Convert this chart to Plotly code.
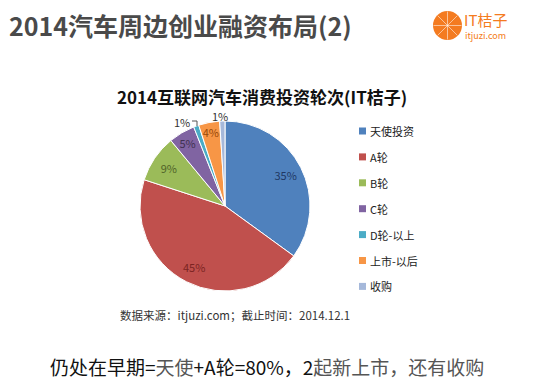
import math
import plotly.graph_objects as go

categories = ["天使投资", "A轮", "B轮", "C轮", "D轮-以上", "上市-以后", "收购"]
values = [35, 45, 9, 5, 1, 4, 1]
colors = ["#4F81BD", "#C0504D", "#9BBB59", "#8064A2", "#4BACC6", "#F79646", "#A5B8DA"]
text_colors = ["#1F3864", "#7B2422", "#4F6228", "#3F3151", "#333333", "#984807", "#333333"]
# slices whose label sits outside the pie (drawn as annotations)
outside_idx = [4, 6]

W, H = 550, 388
OFF = 8  # page body margin
FONT = "Noto Sans CJK SC"


def px(x):
    return (x - OFF) / W


def py(y):
    return 1 - (y - OFF) / H


dom = dict(x=[px(140), px(310)], y=[py(292), py(120)])

fig = go.Figure()
# coloured pie
fig.add_trace(go.Pie(
    labels=categories,
    values=values,
    sort=False,
    direction="clockwise",
    rotation=0,
    marker=dict(colors=colors, line=dict(color="white", width=1)),
    textinfo="none",
    domain=dom,
    showlegend=False,
    hoverinfo="label+percent",
))
# transparent ring carrying the inside labels at ~0.8 radius
fig.add_trace(go.Pie(
    labels=categories,
    values=values,
    sort=False,
    direction="clockwise",
    rotation=0,
    hole=0.6,
    marker=dict(colors=["rgba(0,0,0,0)"] * len(values), line=dict(width=0)),
    texttemplate=["" if i in outside_idx else "%{percent:.0%}" for i in range(len(values))],
    textposition="inside",
    insidetextorientation="horizontal",
    textfont=dict(family=FONT, size=11, color=text_colors),
    domain=dom,
    showlegend=False,
    hoverinfo="skip",
))

shapes = []
annotations = []

# outside labels for the tiny slices
out_pos = {4: (182, 122), 6: (220, 116)}
for i in outside_idx:
    x, y = out_pos[i]
    annotations.append(dict(text=f"{values[i]}%", xref="paper", yref="paper", x=px(x), y=py(y),
                            xanchor="center", yanchor="middle", showarrow=False,
                            font=dict(family=FONT, size=11, color="#333333")))
# leader line for the D轮 label
shapes.append(dict(type="path", xref="paper", yref="paper",
                   path=f"M {px(192)},{py(121)} L {px(197)},{py(121)} L {px(197)},{py(126)}",
                   line=dict(color="#555555", width=1)))

# manual legend
leg_y0 = 131
leg_dy = 25.9
for i, (lab, col) in enumerate(zip(categories, colors)):
    yc = leg_y0 + i * leg_dy
    shapes.append(dict(type="rect", xref="paper", yref="paper",
                       x0=px(359), x1=px(366), y0=py(yc + 3.5), y1=py(yc - 3.5),
                       fillcolor=col, line=dict(width=0)))
    annotations.append(dict(text=lab, xref="paper", yref="paper", x=px(368), y=py(yc),
                            xanchor="left", yanchor="middle", showarrow=False,
                            font=dict(family=FONT, size=11, color="#222222")))

# logo
shapes.append(dict(type="circle", xref="paper", yref="paper",
                   x0=px(433), x1=px(462), y0=py(40), y1=py(11),
                   fillcolor="#F47B20", line=dict(width=0)))
cx, cy, r = 447.5, 25.5, 14
for k in range(4):
    a = math.pi * k / 4
    shapes.append(dict(type="line", xref="paper", yref="paper",
                       x0=px(cx - r * math.cos(a)), x1=px(cx + r * math.cos(a)),
                       y0=py(cy - r * math.sin(a)), y1=py(cy + r * math.sin(a)),
                       line=dict(color="rgba(255,255,255,0.55)", width=1)))
annotations.append(dict(text="IT桔子", xref="paper", yref="paper", x=px(462), y=py(19),
                        xanchor="left", yanchor="middle", showarrow=False,
                        font=dict(family=FONT, size=15, color="#F47B20")))
annotations.append(dict(text="itjuzi.com", xref="paper", yref="paper", x=px(463), y=py(36),
                        xanchor="left", yanchor="middle", showarrow=False,
                        font=dict(family=FONT, size=9, color="#F47B20")))

# main title
annotations.append(dict(text="<b>2014汽车周边创业融资布局(2)</b>", xref="paper", yref="paper",
                        x=px(7), y=py(25), xanchor="left", yanchor="middle", showarrow=False,
                        font=dict(family=FONT, size=25, color="#4A4A4A")))
# chart title
annotations.append(dict(text="<b>2014互联网汽车消费投资轮次(IT桔子)</b>", xref="paper", yref="paper",
                        x=px(262), y=py(97), xanchor="center", yanchor="middle", showarrow=False,
                        font=dict(family=FONT, size=17, color="#111111")))
# source
annotations.append(dict(text="数据来源：itjuzi.com；截止时间：2014.12.1", xref="paper", yref="paper",
                        x=px(235), y=py(315), xanchor="center", yanchor="middle", showarrow=False,
                        font=dict(family=FONT, size=11.5, color="#333333")))
# bottom conclusion
annotations.append(dict(
    text=("<span style='color:#111'>仍处在早期=</span><span style='color:#555'>天使</span>"
          "<span style='color:#111'>+A轮=80%，2</span><span style='color:#555'>起新上市，还有收购</span>"),
    xref="paper", yref="paper", x=px(267), y=py(366), xanchor="center", yanchor="middle",
    showarrow=False, font=dict(family=FONT, size=19, color="#111111")))

fig.update_layout(
    width=W, height=H,
    margin=dict(l=0, r=0, t=0, b=0),
    paper_bgcolor="white",
    plot_bgcolor="white",
    shapes=shapes,
    annotations=annotations,
    showlegend=False,
    uniformtext=dict(minsize=11, mode="show"),
)

fig.write_html("out.html")
